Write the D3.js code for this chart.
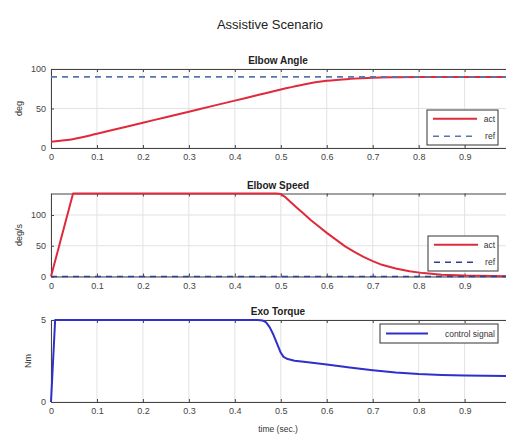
<!DOCTYPE html>
<html>
<head>
<meta charset="utf-8">
<script src="https://cdn.jsdelivr.net/npm/d3@7"></script>
<style>
  body { margin: 0; background: #fff; }
  svg { display: block; font-family: "Liberation Sans", Arial, sans-serif; }
</style>
</head>
<body>
<div id="chart"></div>
<script>
// data
var angleT = [0, 0.05, 0.1, 0.15, 0.2, 0.25, 0.3, 0.35, 0.4, 0.45, 0.5, 0.55, 0.6, 0.65, 0.7, 0.75, 0.8, 0.9, 0.99];
var angleAct = [8, 11.5, 18, 25, 32, 39, 46, 53, 60, 67, 74, 80.5, 85, 87.5, 89, 89.5, 89.8, 90, 90];
var angleRefT = [0, 0.99];
var angleRef = [90, 90];

var speedT = [0, 0.048, 0.49, 0.5, 0.51, 0.52, 0.535, 0.55, 0.565, 0.58, 0.6, 0.62, 0.64, 0.66, 0.68, 0.7, 0.72, 0.75, 0.78, 0.81, 0.85, 0.9, 0.99];
var speedAct = [0, 135, 135, 134, 129, 122, 112, 102, 92, 83, 71, 60, 49, 40, 32, 25, 19, 13, 8.5, 5.5, 3, 1.5, 0.5];
var speedRefT = [0, 0.99];
var speedRef = [0, 0];

var torqueT = [0, 0.009, 0.45, 0.46, 0.468, 0.476, 0.484, 0.492, 0.5, 0.506, 0.515, 0.53, 0.55, 0.6, 0.65, 0.7, 0.75, 0.8, 0.85, 0.9, 0.99];
var torque = [0, 5, 5, 4.97, 4.85, 4.55, 4.1, 3.55, 3.0, 2.75, 2.62, 2.52, 2.45, 2.28, 2.1, 1.94, 1.8, 1.7, 1.65, 1.62, 1.58];

var xTicks = [0, 0.1, 0.2, 0.3, 0.4, 0.5, 0.6, 0.7, 0.8, 0.9];

var W = 506, H = 435;
var svg = d3.select("#chart").append("svg")
    .attr("width", W)
    .attr("height", H);

var x = d3.scaleLinear().domain([0, 0.99]).range([51, 506]);

// suptitle
svg.append("text")
    .attr("x", 270).attr("y", 29)
    .attr("text-anchor", "middle")
    .style("font-size", "13px")
    .style("fill", "#222")
    .text("Assistive Scenario");

var panels = [
    {title: "Elbow Angle", ylabel: "deg", top: 69, bottom: 148, ymax: 100, yTicks: [0, 50, 100],
     series: [
        {t: angleT, v: angleAct, color: "#e02a3c", width: 2, dash: null, name: "act", smooth: true},
        {t: angleRefT, v: angleRef, color: "#5577b0", width: 1.6, dash: "6,5", name: "ref"}],
     legend: {x: 427, y: 110, w: 71, h: 35}},
    {title: "Elbow Speed", ylabel: "deg/s", top: 193.5, bottom: 276.5, ymax: 135, yTicks: [0, 50, 100],
     series: [
        {t: speedT, v: speedAct, color: "#e02a3c", width: 2, dash: null, name: "act"},
        {t: speedRefT, v: speedRef, color: "#2c3f9a", width: 1.6, dash: "6,5", name: "ref"}],
     legend: {x: 428, y: 236, w: 70, h: 35}},
    {title: "Exo Torque", ylabel: "Nm", top: 320, bottom: 402, ymax: 5, yTicks: [0, 5],
     series: [
        {t: torqueT, v: torque, color: "#2f2fcc", width: 2, dash: null, name: "control signal"}],
     legend: {x: 380, y: 324, w: 118, h: 19}}
];

panels.forEach(function (p, pi) {
    var y = d3.scaleLinear().domain([0, p.ymax]).range([p.bottom, p.top]);
    var g = svg.append("g");

    // grid
    g.selectAll(".gx").data(xTicks).enter().append("line")
        .attr("x1", function (d) { return x(d); })
        .attr("x2", function (d) { return x(d); })
        .attr("y1", p.top).attr("y2", p.bottom)
        .style("stroke", "#e2e2e2").style("stroke-width", 1);
    g.selectAll(".gy").data(p.yTicks).enter().append("line")
        .attr("x1", x.range()[0]).attr("x2", x.range()[1])
        .attr("y1", function (d) { return y(d); })
        .attr("y2", function (d) { return y(d); })
        .style("stroke", "#e2e2e2").style("stroke-width", 1);

    // axes
    var xAxis = g.append("g")
        .attr("transform", "translate(0," + p.bottom + ")")
        .call(d3.axisBottom(x).tickValues(xTicks).tickSizeInner(-3).tickSizeOuter(0).tickPadding(6)
            .tickFormat(function (d) { return d === 0 ? "0" : d3.format(".1f")(d); }));
    var xTop = g.append("g")
        .attr("transform", "translate(0," + p.top + ")")
        .call(d3.axisTop(x).tickValues(xTicks).tickSizeInner(-3).tickSizeOuter(0).tickFormat(""));
    var yAxis = g.append("g")
        .attr("transform", "translate(" + x.range()[0] + ",0)")
        .call(d3.axisLeft(y).tickValues(p.yTicks).tickSizeInner(-3).tickSizeOuter(0).tickPadding(5)
            .tickFormat(d3.format("~g")));
    [xAxis, xTop, yAxis].forEach(function (a) {
        a.select(".domain").style("stroke", "#444").style("stroke-width", 1);
        a.selectAll(".tick line").style("stroke", "#444");
        a.selectAll(".tick text").style("font-size", "9px").style("fill", "#444")
            .style("font-family", "Liberation Sans, Arial, sans-serif");
    });

    // title
    svg.append("text")
        .attr("x", 278).attr("y", p.top - 5)
        .attr("text-anchor", "middle")
        .style("font-size", "10px").style("font-weight", "bold").style("fill", "#222")
        .text(p.title);

    // y label
    svg.append("text")
        .attr("transform", "translate(" + (pi === 2 ? 31 : 22) + "," + ((p.top + p.bottom) / 2) + ") rotate(-90)")
        .attr("text-anchor", "middle")
        .style("font-size", "9px").style("fill", "#333")
        .text(p.ylabel);

    // lines
    var clipId = "clip" + pi;
    svg.append("clipPath").attr("id", clipId).append("rect")
        .attr("x", x.range()[0] - 2).attr("y", p.top - 2)
        .attr("width", x.range()[1] - x.range()[0] + 4).attr("height", p.bottom - p.top + 4);
    var lineG = svg.append("g").attr("clip-path", "url(#" + clipId + ")");
    p.series.forEach(function (s) {
        var pts = s.t.map(function (t, i) { return [t, s.v[i]]; });
        var line = d3.line()
            .x(function (d) { return x(d[0]); })
            .y(function (d) { return y(d[1]); })
            .curve(s.smooth ? d3.curveMonotoneX : d3.curveLinear);
        lineG.append("path")
            .datum(pts)
            .attr("d", line)
            .style("fill", "none")
            .style("stroke", s.color)
            .style("stroke-width", s.width)
            .style("stroke-linejoin", "round")
            .style("stroke-dasharray", s.dash);
    });

    // legend
    var L = p.legend;
    var lg = svg.append("g");
    lg.append("rect")
        .attr("x", L.x).attr("y", L.y).attr("width", L.w).attr("height", L.h)
        .style("fill", "#fff").style("stroke", "#333").style("stroke-width", 1);
    p.series.forEach(function (s, i) {
        var rowH = L.h / p.series.length;
        var cy = L.y + rowH * (i + 0.5);
        var textX = L.x + L.w - 3;
        var lineEnd = s.name === "control signal" ? L.x + 48 : L.x + 50;
        lg.append("line")
            .attr("x1", L.x + 6).attr("x2", lineEnd)
            .attr("y1", cy).attr("y2", cy)
            .style("stroke", s.color).style("stroke-width", s.width)
            .style("stroke-dasharray", s.dash);
        lg.append("text")
            .attr("x", textX).attr("y", cy + 3)
            .attr("text-anchor", "end")
            .style("font-size", "8.5px").style("fill", "#333")
            .text(s.name);
    });
});

// x label
svg.append("text")
    .attr("x", 278).attr("y", 432)
    .attr("text-anchor", "middle")
    .style("font-size", "8.5px").style("fill", "#333")
    .text("time (sec.)");
</script>
</body>
</html>
